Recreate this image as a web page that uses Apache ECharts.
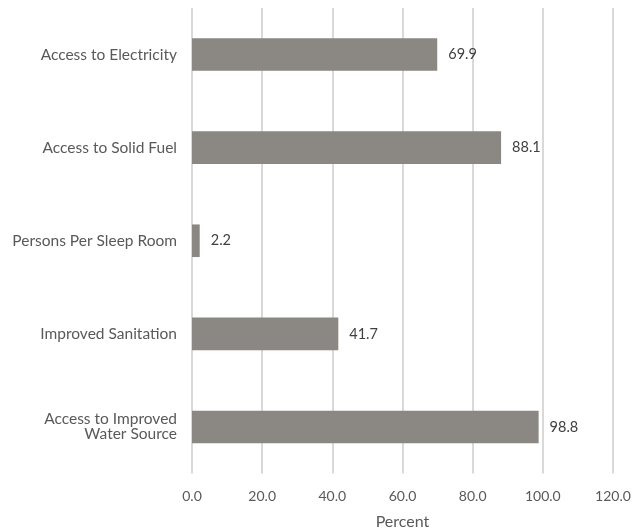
<!DOCTYPE html>
<html><head><meta charset="utf-8">
<script src="https://cdn.jsdelivr.net/npm/echarts@6/dist/echarts.min.js"></script>
<style>html,body{margin:0;padding:0;background:#fff}#c{width:632px;height:528px}</style>
</head><body><div id="c"></div>
<script>
const categories = ["Access to Improved\nWater Source", "Improved Sanitation", "Persons Per Sleep Room", "Access to Solid Fuel", "Access to Electricity"];
const values = [98.8, 41.7, 2.2, 88.1, 69.9];
const xTicks = {min: 0, max: 120, interval: 20};
const xTitle = "Percent";

const font = "Lato, 'Open Sans', sans-serif";
const chart = echarts.init(document.getElementById('c'), null, {renderer: 'canvas'});
chart.setOption({
  animation: false,
  grid: {left: 192, right: 19, top: 8, bottom: 54.5, containLabel: false, outerBoundsMode: 'none'},
  xAxis: {
    type: 'value', min: xTicks.min, max: xTicks.max, interval: xTicks.interval,
    name: xTitle, nameLocation: 'middle', nameGap: 40,
    nameTextStyle: {color: '#595959', fontSize: 16, fontFamily: font},
    axisLine: {show: false}, axisTick: {show: false},
    axisLabel: {color: '#595959', fontSize: 14, fontFamily: font, margin: 16, formatter: v => v.toFixed(1)},
    splitLine: {show: true, lineStyle: {color: '#d9d9d9', width: 2}}
  },
  yAxis: {
    type: 'category', data: categories,
    axisLine: {show: false}, axisTick: {show: false},
    axisLabel: {color: '#595959', fontSize: 15.5, fontFamily: font, margin: 15, lineHeight: 15, align: 'right'}
  },
  series: [{
    type: 'bar', data: values, barWidth: '35%',
    itemStyle: {color: '#8b8782'},
    label: {show: true, position: 'right', distance: 11, color: '#404040', fontSize: 14.5, fontFamily: font, formatter: p => p.value.toFixed(1)}
  }]
});
</script></body></html>
